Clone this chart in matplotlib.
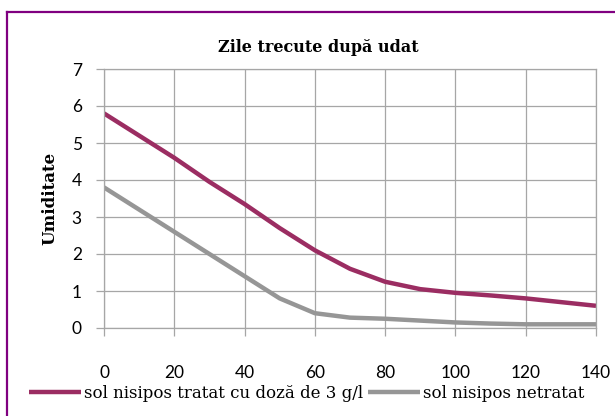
import matplotlib
matplotlib.use("Agg")
import matplotlib.pyplot as plt
from matplotlib.lines import Line2D

# data
days = [0, 10, 20, 30, 40, 50, 60, 70, 80, 90, 100, 110, 120, 130, 140]
tratat = [5.8, 5.2, 4.6, 3.95, 3.35, 2.7, 2.1, 1.6, 1.25, 1.05, 0.95, 0.88, 0.8, 0.7, 0.6]
netratat = [3.8, 3.2, 2.6, 2.0, 1.4, 0.8, 0.4, 0.28, 0.25, 0.2, 0.15, 0.12, 0.1, 0.1, 0.1]
x_ticks = [0, 20, 40, 60, 80, 100, 120, 140]
y_ticks = [0, 1, 2, 3, 4, 5, 6, 7]
labels = ["sol nisipos tratat cu doză de 3 g/l", "sol nisipos netratat"]
title = "Zile trecute după udat"
ylabel = "Umiditate"

W, H = 615, 416
fig = plt.figure(figsize=(W / 100, H / 100), dpi=100)
ax = fig.add_axes([104 / W, 1 - 328 / H, (596 - 104) / W, (328 - 69) / H])

l1, = ax.plot(days, tratat, color="#9b2d62", lw=3.2, solid_capstyle="butt")
l2, = ax.plot(days, netratat, color="#969696", lw=3.2, solid_capstyle="butt")

ax.set_xlim(0, 140)
ax.set_ylim(0, 7)
ax.set_xticks(x_ticks)
ax.set_yticks(y_ticks)
ax.grid(True, color="#a6a6a6", lw=0.9)
ax.set_axisbelow(True)
for s in ax.spines.values():
    s.set_color("#a6a6a6")
    s.set_linewidth(0.9)
ax.tick_params(axis="both", color="#a6a6a6", length=6, width=0.9, labelsize=12.5)
ax.tick_params(axis="x", pad=21)
ax.tick_params(axis="y", pad=10)
for t in ax.get_xticklabels() + ax.get_yticklabels():
    t.set_fontfamily("Lato")

fig.text(318 / W, 1 - 47 / H, title, ha="center", va="center",
         fontsize=11.5, fontweight="bold", family="DejaVu Serif")
fig.text(50 / W, 1 - 198 / H, ylabel, ha="center", va="center", rotation=90,
         fontsize=12, fontweight="bold", family="DejaVu Serif")

fig.legend([l1, l2], labels, loc="center", bbox_to_anchor=(307 / W, 1 - 393 / H),
           ncol=2, frameon=False, prop={"family": "DejaVu Serif", "size": 12},
           handlelength=3.1, handletextpad=0.2, columnspacing=0.3, borderaxespad=0)

# purple frame (right and bottom edges are off the picture)
fig.add_artist(Line2D([7 / W, 7 / W], [0, 1 - 12 / H], color="#800080", lw=1.6,
                      transform=fig.transFigure))
fig.add_artist(Line2D([7 / W, 1], [1 - 12 / H, 1 - 12 / H], color="#800080", lw=1.6,
                      transform=fig.transFigure))

fig.savefig("out.png", dpi=100)
